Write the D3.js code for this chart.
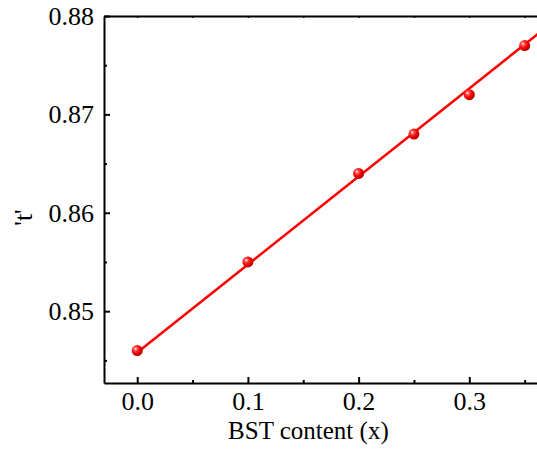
<!DOCTYPE html>
<html>
<head>
<meta charset="utf-8">
<script src="https://cdn.jsdelivr.net/npm/d3@7"></script>
<style>
  body { margin: 0; background: #fff; }
  svg text { font-family: "Liberation Serif", "Times New Roman", serif; fill: #000; }
</style>
</head>
<body>
<script>
const svgWidth = 537
const svgHeight = 453

const margin = { top: 16, left: 104, bottom: 70 }
const serif = "Liberation Serif, Times New Roman, serif"

// data
const bstContent = [0, 0.1, 0.2, 0.25, 0.3, 0.35]
const tolerance = [0.846, 0.855, 0.864, 0.868, 0.872, 0.877]

// fitted line ends
const fitX = [0, 0.37]
const fitY = [0.8458, 0.8789]

const xTicks = [0, 0.1, 0.2, 0.3]
const xMinor = [0.05, 0.15, 0.25, 0.35]
const yTicks = [0.85, 0.86, 0.87, 0.88]
const yMinor = [0.845, 0.855, 0.865, 0.875]

const x = d3.scaleLinear()
    .domain([-0.03, 0.37])
    .range([margin.left, margin.left + 0.4 * 1107])

const y = d3.scaleLinear()
    .domain([0.8427, 0.88])
    .range([svgHeight - margin.bottom, margin.top])

const svg = d3.select("body").append("svg")
    .attr("width", svgWidth)
    .attr("height", svgHeight)

const grad = svg.append("defs").append("radialGradient")
    .attr("id", "ball")
    .attr("cx", "35%").attr("cy", "35%").attr("r", "65%")
grad.append("stop").attr("offset", "0%").attr("stop-color", "#ffffff")
grad.append("stop").attr("offset", "25%").attr("stop-color", "#ff5050")
grad.append("stop").attr("offset", "60%").attr("stop-color", "#ff0000")
grad.append("stop").attr("offset", "100%").attr("stop-color", "#b00000")

const bottomY = y.range()[0]
const topY = y.range()[1]

function styleAxis(g) {
    g.attr("font-family", serif).attr("font-size", 26)
    g.select(".domain").attr("stroke-width", 2)
    g.selectAll(".tick line").attr("stroke-width", 2)
    g.selectAll(".tick text").attr("font-family", serif).attr("font-size", 26)
}

// bottom axis
const xAxis = d3.axisBottom(x)
    .tickValues(xTicks)
    .tickSizeInner(-6)
    .tickSizeOuter(0)
    .tickPadding(9)
    .tickFormat(d3.format(".1f"))

svg.append("g")
    .attr("transform", `translate(0, ${bottomY})`)
    .call(xAxis)
    .call(styleAxis)

svg.append("g")
    .attr("transform", `translate(0, ${bottomY})`)
    .call(d3.axisBottom(x).tickValues(xMinor).tickSizeInner(-3).tickSizeOuter(0).tickFormat(""))
    .call(g => g.select(".domain").remove())
    .selectAll("line").attr("stroke-width", 2)

// top axis
svg.append("g")
    .attr("transform", `translate(0, ${topY})`)
    .call(d3.axisTop(x).tickValues(xTicks.concat(xMinor)).tickSizeInner(-2).tickSizeOuter(0).tickFormat(""))
    .call(g => g.select(".domain").attr("stroke-width", 2))
    .selectAll("line").attr("stroke-width", 1.5)

// left axis
const yAxis = d3.axisLeft(y)
    .tickValues(yTicks)
    .tickSizeInner(-6)
    .tickSizeOuter(0)
    .tickPadding(10)
    .tickFormat(d3.format(".2f"))

svg.append("g")
    .attr("transform", `translate(${margin.left}, 0)`)
    .call(yAxis)
    .call(styleAxis)

svg.append("g")
    .attr("transform", `translate(${margin.left}, 0)`)
    .call(d3.axisLeft(y).tickValues(yMinor).tickSizeInner(-3).tickSizeOuter(0).tickFormat(""))
    .call(g => g.select(".domain").remove())
    .selectAll("line").attr("stroke-width", 2)

// fit line
const line = d3.line()
    .x(d => x(d[0]))
    .y(d => y(d[1]))

svg.append("path")
    .attr("d", line(d3.zip(fitX, fitY)))
    .attr("fill", "none")
    .attr("stroke", "#ff0000")
    .attr("stroke-width", 2.5)

// points
svg.selectAll("circle.pt")
    .data(d3.zip(bstContent, tolerance))
    .enter()
    .append("circle")
    .attr("class", "pt")
    .attr("cx", d => x(d[0]))
    .attr("cy", d => y(d[1]))
    .attr("r", 5.5)
    .attr("fill", "url(#ball)")

// axis titles
svg.append("text")
    .attr("x", (x(-0.03) + x(0.37)) / 2 - 17)
    .attr("y", 439)
    .attr("text-anchor", "middle")
    .attr("font-family", serif)
    .attr("font-size", 25)
    .text("BST content (x)")

svg.append("text")
    .attr("transform", `translate(32, ${(topY + bottomY) / 2 + 18}) rotate(-90)`)
    .attr("text-anchor", "middle")
    .attr("font-family", serif)
    .attr("font-size", 26)
    .text("'t'")
</script>
</body>
</html>
